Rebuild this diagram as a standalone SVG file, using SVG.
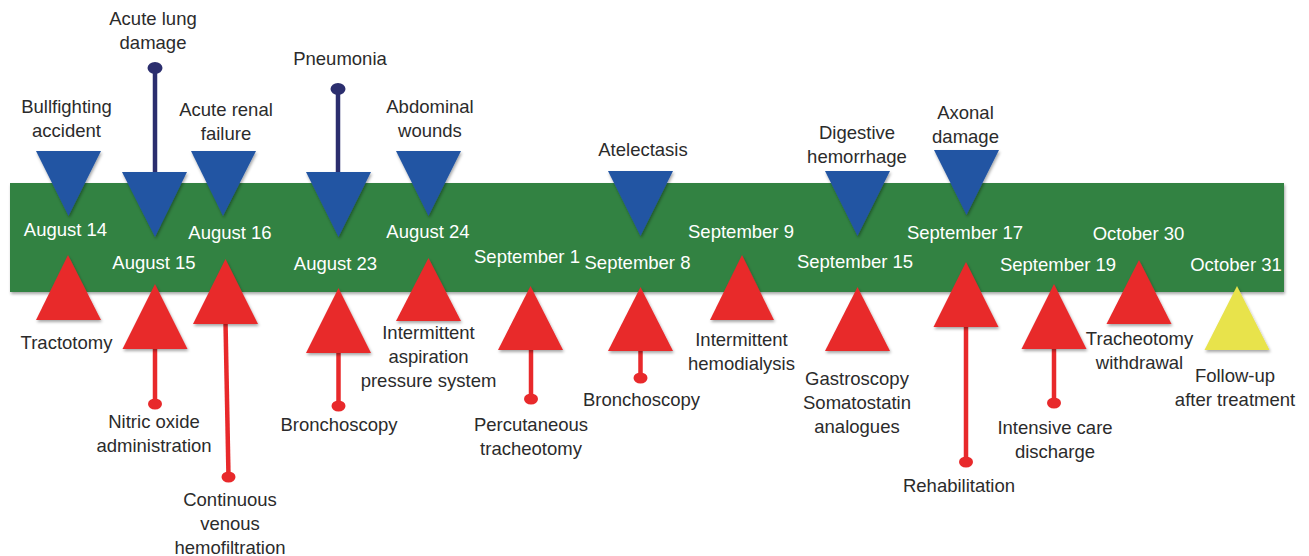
<svg xmlns="http://www.w3.org/2000/svg" width="1309" height="556" viewBox="0 0 1309 556">
<defs>
<filter id="sh" x="-10%" y="-10%" width="120%" height="130%">
<feDropShadow dx="1" dy="2" stdDeviation="1.5" flood-color="#000" flood-opacity="0.35"/>
</filter>
<style>
.lbl{font-family:"Liberation Sans",Arial,sans-serif;font-size:18.5px;fill:#2b2b2b;text-anchor:middle}
.date{font-family:"Liberation Sans",Arial,sans-serif;font-size:18.5px;fill:#ffffff;text-anchor:middle}
.blue{fill:#2155a3;filter:url(#sh)}
.red{fill:#e8292b;filter:url(#sh)}
.yellow{fill:#e8e34b;filter:url(#sh)}
.nstem{stroke:#2b2e6e;stroke-width:4.5;fill:none}
.rstem{stroke:#e8292b;stroke-width:4.5;fill:none}
.ndot{fill:#2b2e6e}
.rdot{fill:#e8292b}
</style>
</defs>
<rect x="0" y="0" width="1309" height="556" fill="#ffffff"/>
<g id="timeline">
<rect x="10" y="183" width="1274" height="109" fill="#338243" filter="url(#sh)"/>
</g>
<g id="connectors">
<line class="nstem" x1="155" y1="68" x2="155" y2="173"/><ellipse class="ndot" cx="155" cy="68" rx="7.5" ry="6"/>
<line class="nstem" x1="338" y1="89" x2="338" y2="173"/><ellipse class="ndot" cx="338" cy="89" rx="7.5" ry="6"/>
<line class="rstem" x1="155" y1="348" x2="155" y2="404"/><ellipse class="rdot" cx="155" cy="404" rx="7" ry="5.5"/>
<line class="rstem" x1="225.5" y1="322" x2="228.5" y2="477"/><ellipse class="rdot" cx="228.5" cy="477" rx="7" ry="5.5"/>
<line class="rstem" x1="338.5" y1="351" x2="338.5" y2="406"/><ellipse class="rdot" cx="338.5" cy="406" rx="7" ry="5.5"/>
<line class="rstem" x1="531" y1="349" x2="531" y2="399"/><ellipse class="rdot" cx="531" cy="399" rx="7" ry="5.5"/>
<line class="rstem" x1="640.5" y1="350" x2="640.5" y2="378"/><ellipse class="rdot" cx="640.5" cy="378" rx="7" ry="5.5"/>
<line class="rstem" x1="966" y1="325" x2="966" y2="462"/><ellipse class="rdot" cx="966" cy="462" rx="7" ry="5.5"/>
<line class="rstem" x1="1054" y1="348" x2="1054" y2="403"/><ellipse class="rdot" cx="1054" cy="403" rx="7" ry="5.5"/>
</g>
<g id="n-bullfighting"><polygon class="blue" points="36,151 101,151 68.5,216"/><text class="lbl" x="66.5" y="113">Bullfighting</text><text class="lbl" x="66.5" y="137">accident</text><text class="date" x="65.5" y="236">August 14</text></g>
<g id="n-acute-lung"><polygon class="blue" points="122,172 187,172 155,237"/><text class="lbl" x="153" y="25">Acute lung</text><text class="lbl" x="153" y="49">damage</text><text class="date" x="154" y="269">August 15</text></g>
<g id="n-acute-renal"><polygon class="blue" points="191,151 256,151 223,216"/><text class="lbl" x="226" y="116">Acute renal</text><text class="lbl" x="226" y="140">failure</text><text class="date" x="230" y="239">August 16</text></g>
<g id="n-pneumonia"><polygon class="blue" points="306,172 371,172 338.5,237"/><text class="lbl" x="340" y="65">Pneumonia</text><text class="date" x="335.5" y="270">August 23</text></g>
<g id="n-abdominal"><polygon class="blue" points="396,151 461,151 428.5,216"/><text class="lbl" x="430" y="113">Abdominal</text><text class="lbl" x="430" y="137">wounds</text><text class="date" x="428" y="238">August 24</text></g>
<g id="n-atelectasis"><polygon class="blue" points="608,171 673,171 640.5,236"/><text class="lbl" x="643" y="156">Atelectasis</text></g>
<g id="n-digestive"><polygon class="blue" points="825,171 890,171 857.5,236"/><text class="lbl" x="857" y="139">Digestive</text><text class="lbl" x="857" y="163">hemorrhage</text><text class="date" x="855" y="268">September 15</text></g>
<g id="n-axonal"><polygon class="blue" points="934,150 999,150 966.5,215"/><text class="lbl" x="965.5" y="119">Axonal</text><text class="lbl" x="965.5" y="143">damage</text><text class="date" x="965" y="239">September 17</text></g>
<g id="n-tractotomy"><polygon class="red" points="68,255 101,320 36,320"/><text class="lbl" x="66.5" y="349">Tractotomy</text></g>
<g id="n-nitric"><polygon class="red" points="155,284 187.5,349 122.5,349"/><text class="lbl" x="154" y="428">Nitric oxide</text><text class="lbl" x="154" y="452">administration</text></g>
<g id="n-continuous"><polygon class="red" points="225.5,259 258,324 193,324"/><text class="lbl" x="230" y="506">Continuous</text><text class="lbl" x="230" y="530">venous</text><text class="lbl" x="230" y="554">hemofiltration</text></g>
<g id="n-bronchoscopy1"><polygon class="red" points="338.5,288 371,353 306,353"/><text class="lbl" x="339" y="431">Bronchoscopy</text></g>
<g id="n-aspiration"><polygon class="red" points="428.5,258 461,321 396,321"/><text class="lbl" x="428.5" y="339">Intermittent</text><text class="lbl" x="428.5" y="363">aspiration</text><text class="lbl" x="428.5" y="387">pressure system</text></g>
<g id="n-percutaneous"><polygon class="red" points="530.5,286 563,350 498,350"/><text class="lbl" x="531" y="431">Percutaneous</text><text class="lbl" x="531" y="455">tracheotomy</text><text class="date" x="527" y="263">September 1</text></g>
<g id="n-bronchoscopy2"><polygon class="red" points="640.5,287 673,351 608,351"/><text class="lbl" x="641.5" y="406">Bronchoscopy</text><text class="date" x="637.5" y="269">September 8</text></g>
<g id="n-hemodialysis"><polygon class="red" points="742,255 774,320 710,320"/><text class="lbl" x="741.5" y="346">Intermittent</text><text class="lbl" x="741.5" y="370">hemodialysis</text><text class="date" x="741" y="238">September 9</text></g>
<g id="n-gastroscopy"><polygon class="red" points="857.5,287 890,351 825,351"/><text class="lbl" x="857" y="385">Gastroscopy</text><text class="lbl" x="857" y="409">Somatostatin</text><text class="lbl" x="857" y="433">analogues</text></g>
<g id="n-rehabilitation"><polygon class="red" points="966,262 998.5,327 933.5,327"/><text class="lbl" x="959" y="492">Rehabilitation</text></g>
<g id="n-intensive"><polygon class="red" points="1054,284 1086.5,349 1021.5,349"/><text class="lbl" x="1055" y="434">Intensive care</text><text class="lbl" x="1055" y="458">discharge</text><text class="date" x="1058" y="271">September 19</text></g>
<g id="n-tracheotomy-withdrawal"><polygon class="red" points="1139,260 1171.5,324 1106.5,324"/><text class="lbl" x="1139.5" y="345">Tracheotomy</text><text class="lbl" x="1139.5" y="369">withdrawal</text><text class="date" x="1138.5" y="240">October 30</text></g>
<g id="n-followup"><polygon class="yellow" points="1237,286 1269.5,350 1204.5,350"/><text class="lbl" x="1235" y="382">Follow-up</text><text class="lbl" x="1235" y="406">after treatment</text><text class="date" x="1236" y="271">October 31</text></g>
</svg>
